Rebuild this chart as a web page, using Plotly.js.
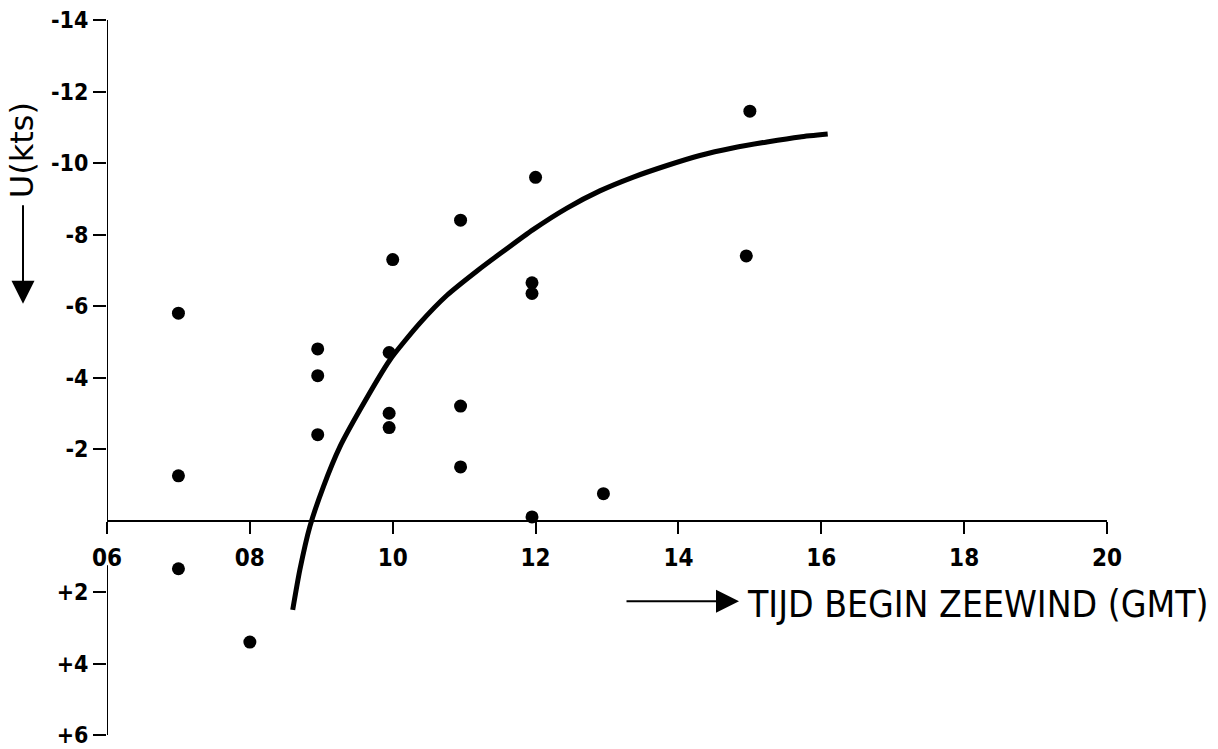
<!DOCTYPE html>
<html>
<head>
<meta charset="utf-8">
<script src="https://cdn.plot.ly/plotly-3.0.1.min.js"></script>
<style>html,body{margin:0;padding:0;background:#fff;}#chart{width:1218px;height:749px;}</style>
</head>
<body>
<div id="chart"></div>
<script>
// Observations: start time of sea breeze (GMT, hours) vs u (kts)
const obsTime = [7.0, 7.0, 7.0, 8.0, 8.95, 8.95, 8.95, 10.0, 9.95, 9.95, 9.95, 10.95, 10.95, 10.95, 12.0, 11.95, 11.95, 11.95, 12.95, 15.0, 14.95];
const obsU    = [-5.8, -1.25, 1.35, 3.4, -4.8, -4.05, -2.4, -7.3, -4.7, -3.0, -2.6, -8.4, -3.2, -1.5, -9.6, -6.65, -6.35, -0.1, -0.75, -11.45, -7.4];

// Hand-drawn fitted curve
const curveTime = [8.60, 8.70, 8.84, 9.03, 9.26, 9.54, 9.96, 10.38, 10.76, 11.18, 11.50, 11.96, 12.44, 12.90, 13.36, 13.84, 14.30, 14.76, 15.24, 15.70, 16.09];
const curveU    = [2.50, 1.38, 0.17, -0.95, -2.06, -3.09, -4.49, -5.52, -6.30, -6.98, -7.46, -8.13, -8.74, -9.22, -9.60, -9.93, -10.21, -10.42, -10.59, -10.73, -10.81];

// Tick labels
const xTickVals = [6, 8, 10, 12, 14, 16, 18, 20];
const xTickText = ['06', '08', '10', '12', '14', '16', '18', '20'];
const yTickVals = [-14, -12, -10, -8, -6, -4, -2, 2, 4, 6];
const yTickText = ['-14', '-12', '-10', '-8', '-6', '-4', '-2', '+2', '+4', '+6'];

const FONT_C = 'DejaVu Sans Condensed, DejaVu Sans, sans-serif';
const FONT = 'DejaVu Sans, sans-serif';

const traces = [
  {
    x: curveTime, y: curveU, type: 'scatter', mode: 'lines',
    line: {color: '#000', width: 5, shape: 'spline', smoothing: 0.6},
    hoverinfo: 'skip', showlegend: false
  },
  {
    x: obsTime, y: obsU, type: 'scatter', mode: 'markers',
    marker: {color: '#000', size: 13},
    showlegend: false
  }
];

const layout = {
  width: 1218, height: 749,
  paper_bgcolor: '#fff', plot_bgcolor: '#fff',
  margin: {l: 107, r: 111, t: 20, b: 14},
  font: {family: FONT_C, color: '#000', size: 23},
  showlegend: false,
  xaxis: {
    range: [6, 20], anchor: 'free', position: 0.3,
    showgrid: false, zeroline: false,
    showline: true, linecolor: '#000', linewidth: 2,
    ticks: 'outside', ticklen: 12, tickwidth: 2, tickcolor: '#000',
    tickvals: xTickVals, ticktext: xTickText, ticklabelstandoff: 4,
    ticklabeloverflow: 'allow',
    tickfont: {family: FONT_C, size: 24, color: '#000', weight: 'bold'}
  },
  yaxis: {
    range: [6, -14], domain: [0, 1],
    showgrid: false, zeroline: false, showline: false,
    ticks: 'outside', ticklen: 13, tickwidth: 2, tickcolor: '#000',
    tickvals: yTickVals, ticktext: yTickText,
    ticklabeloverflow: 'allow',
    tickfont: {family: FONT_C, size: 23, color: '#000', weight: 'bold'}
  },
  shapes: [
    {type: 'line', xref: 'x', yref: 'y', x0: 6, x1: 6, y0: -14, y1: 0, line: {color: '#000', width: 2}},
    {type: 'line', xref: 'x', yref: 'y', x0: 6, x1: 6, y0: 1.25, y1: 6, line: {color: '#000', width: 2}}
  ],
  annotations: [
    {
      xref: 'paper', yref: 'paper', x: 0.638, y: 0.182, xanchor: 'left', yanchor: 'middle',
      text: 'TIJD BEGIN ZEEWIND (GMT)', showarrow: false,
      font: {family: FONT_C, size: 37, color: '#000'}
    },
    {
      xref: 'paper', yref: 'paper', x: 0.632, y: 0.187, text: '',
      showarrow: true, arrowhead: 2, arrowsize: 2.3, arrowwidth: 2, arrowcolor: '#000',
      ax: -114, ay: 0
    },
    {
      xref: 'paper', yref: 'paper', x: -0.085, y: 0.818, xanchor: 'center', yanchor: 'middle',
      text: 'U(kts)', textangle: -90, showarrow: false,
      font: {family: FONT, size: 32, color: '#000'}
    },
    {
      xref: 'paper', yref: 'paper', x: -0.084, y: 0.603, text: '',
      showarrow: true, arrowhead: 2, arrowsize: 2.3, arrowwidth: 2, arrowcolor: '#000',
      ax: 0, ay: -100
    }
  ]
};

Plotly.newPlot('chart', traces, layout, {displayModeBar: false, staticPlot: true});
</script>
</body>
</html>
